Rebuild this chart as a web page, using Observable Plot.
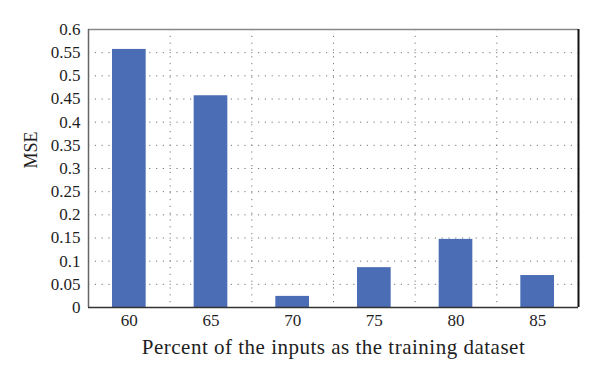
<!DOCTYPE html>
<html>
<head>
<meta charset="utf-8">
<script src="https://cdn.jsdelivr.net/npm/d3@7"></script>
<script src="https://cdn.jsdelivr.net/npm/@observablehq/plot@0.6"></script>
<style>
  html, body { margin: 0; padding: 0; background: #fff; }
  svg { display: block; }
  #chart g.xtitle text { letter-spacing: 0.5px; }
</style>
</head>
<body>
<div id="chart"></div>
<script>
const categories = [60, 65, 70, 75, 80, 85];
const mseValues = [0.557, 0.457, 0.024, 0.086, 0.147, 0.069];
const yTicks = [0, 0.05, 0.1, 0.15, 0.2, 0.25, 0.3, 0.35, 0.4, 0.45, 0.5, 0.55, 0.6];
const xTitle = "Percent of the inputs as the training dataset";
const yTitle = "MSE";

const data = categories.map((c, i) => ({pct: c, mse: mseValues[i]}));
const half = 2.5;
const xDomain = [categories[0] - half, categories[categories.length - 1] + half];
const yMax = yTicks[yTicks.length - 1];
const boundaries = categories.slice(0, -1).map(c => c + half);

const dotted = {stroke: "#777", strokeWidth: 1, strokeDasharray: "1.2,5.6"};
const ink = "#1e1e1e";

const chart = Plot.plot({
  width: 600,
  height: 386,
  marginLeft: 88,
  marginRight: 22,
  marginTop: 29,
  marginBottom: 79,
  style: {fontFamily: "'Liberation Serif', 'DejaVu Serif', serif", color: ink, background: "#fff"},
  x: {domain: xDomain, axis: null},
  y: {domain: [0, yMax], axis: null},
  marks: [
    Plot.ruleY(yTicks.slice(1, -1), dotted),
    Plot.ruleX(boundaries, dotted),
    Plot.rectY(data, {x1: d => d.pct - half, x2: d => d.pct + half, y: "mse", fill: "#4a6db5", insetLeft: 24, insetRight: 24}),
    Plot.ruleY([yMax], {stroke: "#888", strokeWidth: 1.5}),
    Plot.ruleX([xDomain[0]], {stroke: "#666", strokeWidth: 1.5}),
    Plot.ruleX([xDomain[1]], {stroke: "#111", strokeWidth: 2}),
    Plot.ruleY([0], {stroke: "#333", strokeWidth: 1.5}),
    Plot.text(categories, {x: d => d, frameAnchor: "bottom", dy: 18, text: d => String(d), fontSize: 17, fill: ink}),
    Plot.text(yTicks, {y: d => d, frameAnchor: "left", dx: -8, textAnchor: "end", text: d => String(d), fontSize: 17, fill: ink}),
    Plot.text([xTitle], {frameAnchor: "bottom", dy: 46, fontSize: 21, fill: ink, className: "xtitle"}),
    Plot.text([yTitle], {frameAnchor: "left", dx: -57, rotate: -90, fontSize: 18, fill: ink})
  ]
});
document.getElementById("chart").appendChild(chart);
</script>
</body>
</html>
